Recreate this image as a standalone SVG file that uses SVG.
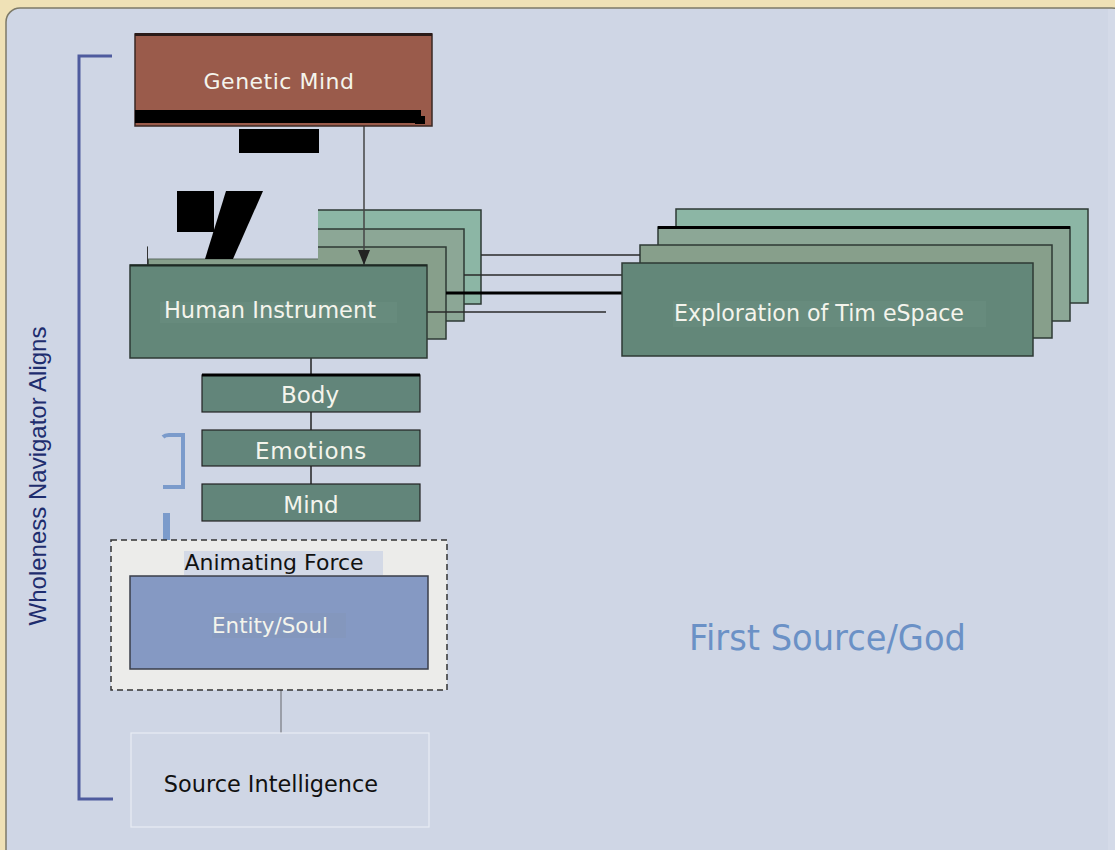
<svg xmlns="http://www.w3.org/2000/svg" width="1115" height="850" viewBox="0 0 1115 850">
<style>
.lbl{font-family:"DejaVu Sans",Verdana,sans-serif;fill:#f4f4ec;text-anchor:middle}
.blk{font-family:"DejaVu Sans",Verdana,sans-serif;fill:#111;text-anchor:middle}
.grn{stroke:#2e3a34;stroke-width:1.5}
.conn{stroke:#2a2a2a;stroke-width:1.5;fill:none}
</style>
<defs>
<marker id="arr" markerWidth="15" markerHeight="12" refX="15" refY="6" orient="auto" markerUnits="userSpaceOnUse" viewBox="0 0 15 12">
<path d="M0,0 L15,6 L0,12 Z" fill="#222"/>
</marker>
</defs>
<rect x="0" y="0" width="1115" height="850" fill="#efe1b6"/>
<rect x="6" y="8" width="1120" height="860" rx="14" fill="#cfd6e5" stroke="#7d7a68" stroke-width="1.5"/>
<rect x="1108" y="9" width="7" height="841" fill="#d4dae8"/>

<g id="bracket">
<path d="M112,56 H79 V799 H113" fill="none" stroke="#4e5b9e" stroke-width="3"/>
<text x="46" y="476" transform="rotate(-90 46 476)" font-family="Liberation Sans,Arial,sans-serif" font-size="24" fill="#1e2d6e" text-anchor="middle">Wholeness Navigator Aligns</text>
</g>

<g id="human-stack">
<rect x="184" y="210" width="297" height="94" fill="#8cb6a5" class="grn"/>
<rect x="166" y="229" width="298" height="92" fill="#8ca796" class="grn"/>
<rect x="148" y="247" width="298" height="92" fill="#879f8b" class="grn"/>
</g>

<g id="explore-stack">
<rect x="676" y="209" width="412" height="94" fill="#8cb6a5" class="grn"/>
<rect x="658" y="227" width="412" height="94" fill="#8ca796" class="grn"/>
<line x1="658" y1="227.5" x2="1070" y2="227.5" stroke="#000" stroke-width="3"/>
<rect x="640" y="245" width="412" height="93" fill="#879f8b" class="grn"/>
</g>

<g id="connectors">
<line x1="481" y1="255" x2="640" y2="255" class="conn"/>
<line x1="464" y1="275" x2="622" y2="275" class="conn"/>
<line x1="446" y1="293" x2="622" y2="293" stroke="#000" stroke-width="3"/>
<line x1="427" y1="312" x2="606" y2="312" class="conn"/>
<line x1="364" y1="126" x2="364" y2="265" stroke="#444" stroke-width="1.5" marker-end="url(#arr)"/>
<line x1="311" y1="358" x2="311" y2="484" stroke="#222" stroke-width="1.5"/>
<line x1="281" y1="690" x2="281" y2="733" stroke="#9a9ea8" stroke-width="2"/>
</g>

<g id="overlay">
<rect x="148" y="180" width="170" height="79" fill="#cfd6e5"/>
<line x1="148" y1="259" x2="318" y2="259" stroke="#5a6a60" stroke-width="1"/>
<line x1="147.5" y1="247" x2="147.5" y2="265" stroke="#333" stroke-width="1"/>
<polygon points="177,191 214,191 214,232 177,232" fill="#000"/>
<polygon points="226,191 263,191 233,259 205,259" fill="#000"/>
</g>

<g id="genetic-mind">
<rect x="135" y="34" width="297" height="92" fill="#9a5b4b" stroke="#3a2824" stroke-width="1.5"/>
<line x1="135" y1="34.5" x2="432" y2="34.5" stroke="#2a1a18" stroke-width="3"/>
<rect x="135" y="110" width="286" height="13" fill="#000"/>
<rect x="415" y="116" width="10" height="8" fill="#000"/>
<rect x="239" y="129" width="80" height="24" fill="#000"/>
<text x="279" y="89" class="lbl" font-size="22" letter-spacing="0.5">Genetic Mind</text>
</g>

<g id="human-instrument">
<rect x="130" y="265" width="297" height="93" fill="#638779" class="grn"/>
<line x1="130" y1="265.5" x2="427" y2="265.5" stroke="#1e2a24" stroke-width="2"/>
<rect x="160" y="302" width="237" height="21" fill="#678b7d"/>
<text x="270" y="318" class="lbl" font-size="22.5">Human Instrument</text>
</g>

<g id="exploration">
<rect x="622" y="263" width="411" height="93" fill="#638779" class="grn"/>
<rect x="673" y="301" width="313" height="26" fill="#678b7d"/>
<text x="674" y="321" font-family="DejaVu Sans,sans-serif" font-size="23" fill="#f4f4ec" textLength="290" lengthAdjust="spacingAndGlyphs">Exploration of Tim eSpace</text>
</g>

<g id="body">
<rect x="202" y="375" width="218" height="37" fill="#62857a" stroke="#222" stroke-width="1.2"/>
<line x1="202" y1="375" x2="420" y2="375" stroke="#000" stroke-width="3"/>
<text x="310" y="403" class="lbl" font-size="23">Body</text>
</g>
<g id="emotions">
<rect x="202" y="430" width="218" height="36" fill="#62857a" stroke="#222" stroke-width="1.2"/>
<text x="311" y="459" class="lbl" font-size="23" letter-spacing="0.6">Emotions</text>
</g>
<g id="mind">
<rect x="202" y="484" width="218" height="37" fill="#62857a" stroke="#222" stroke-width="1.2"/>
<text x="311" y="513" class="lbl" font-size="23">Mind</text>
</g>

<g id="blue-marks" fill="none" stroke="#7b9bcb">
<path d="M163,437 Q165,435 169,435 H183 V487 H163" stroke-width="4"/>
<rect x="163" y="513" width="7" height="27" fill="#7b9bcb" stroke="none"/>
</g>

<g id="animating-force">
<rect x="111" y="540" width="336" height="150" fill="#ececea" stroke="#333" stroke-width="1.5" stroke-dasharray="6,4"/>
<rect x="184" y="551" width="199" height="24" fill="#d3d9e6"/>
<text x="274" y="570" class="blk" font-size="22">Animating Force</text>
</g>

<g id="entity-soul">
<rect x="130" y="576" width="298" height="93" fill="#8599c3" stroke="#3a3e4a" stroke-width="1.5"/>
<rect x="212" y="613" width="134" height="25" fill="#8497bd"/>
<text x="270" y="633" class="lbl" font-size="21.4">Entity/Soul</text>
</g>

<g id="source-intelligence">
<rect x="131" y="733" width="298" height="94" fill="#cfd6e5" stroke="#e8ecf4" stroke-width="1.2"/>
<text x="271" y="792" class="blk" font-size="22.4">Source Intelligence</text>
</g>

<g id="first-source">
<text x="689" y="650" font-family="DejaVu Sans,sans-serif" font-size="35" fill="#6b91c6" textLength="277" lengthAdjust="spacingAndGlyphs">First Source/God</text>
</g>
</svg>
